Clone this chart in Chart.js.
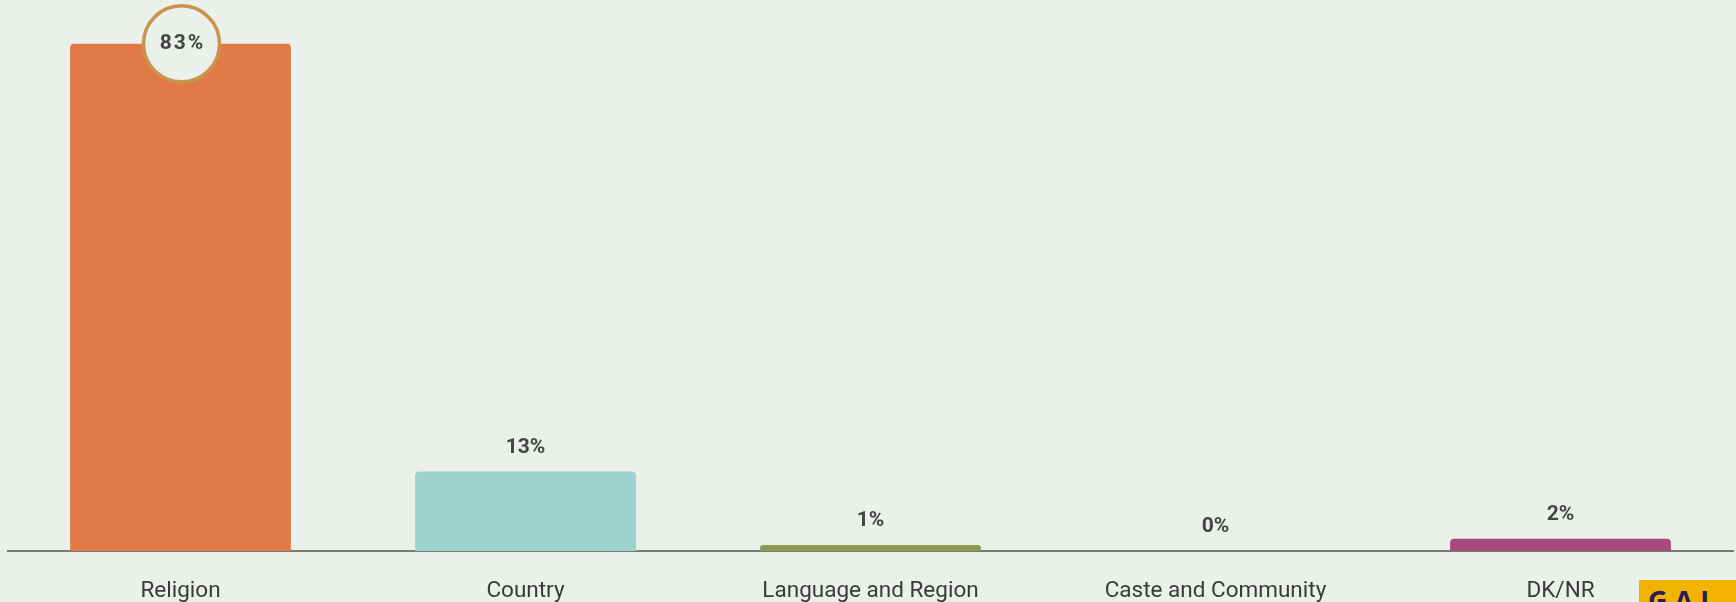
<!DOCTYPE html>
<html>
<head>
<meta charset="utf-8">
<script src="https://cdn.jsdelivr.net/npm/chart.js@4/dist/chart.umd.min.js"></script>
<style>
    html, body { margin: 0; padding: 0; background: #ebf0ea; overflow: hidden; }
    .chart-box { position: relative; width: 1736px; height: 642px; }
    .logo {
        position: absolute; left: 1639px; top: 580px; width: 110px; height: 40px;
        background: #f2b200; color: #2b1a5a;
        font: 700 27px "Open Sans", sans-serif; letter-spacing: 7px;
        padding-left: 9px; box-sizing: border-box; line-height: 40px;
    }
</style>
</head>
<body>
<div class="chart-box">
    <canvas id="bar-chart"></canvas>
</div>
<div class="logo">GAL</div>

<script>
    // 数据
    const categories = ['Religion', 'Country', 'Language and Region', 'Caste and Community', 'DK/NR'];
    const shares = [83, 13, 1, 0, 2];
    const barColors = ['#e07b48', '#9dd1cb', '#8e9a52', '#d9b45a', '#a64b7b'];

    // 柱顶数值标签，最大值画成圆圈
    const valueLabels = {
        id: 'valueLabels',
        afterDatasetsDraw(chart) {
            const ctx = chart.ctx;
            const meta = chart.getDatasetMeta(0);
            const top = Math.max(...shares);
            ctx.save();
            ctx.textAlign = 'center';
            ctx.textBaseline = 'middle';
            meta.data.forEach((bar, i) => {
                const v = shares[i];
                if (v === top) {
                    ctx.beginPath();
                    ctx.arc(bar.x + 1, bar.y, 38, 0, Math.PI * 2);
                    ctx.fillStyle = '#ebf0ea';
                    ctx.fill();
                    ctx.lineWidth = 3.5;
                    ctx.strokeStyle = '#c9944d';
                    ctx.stroke();
                    ctx.fillStyle = '#444';
                    ctx.font = 'bold 21px Roboto';
                    ctx.letterSpacing = '2px';
                    ctx.fillText(v + '%', bar.x + 2, bar.y);
                    ctx.letterSpacing = '0px';
                } else {
                    ctx.fillStyle = '#444';
                    ctx.font = 'bold 21px Roboto';
                    ctx.fillText(v + '%', bar.x, bar.y - 24);
                }
            });
            ctx.restore();
        }
    };

    new Chart(document.getElementById('bar-chart'), {
        type: 'bar',
        data: {
            labels: categories,
            datasets: [{
                data: shares,
                backgroundColor: barColors,
                borderRadius: 4,
                borderSkipped: 'start',
                barPercentage: 0.64,
                categoryPercentage: 1
            }]
        },
        options: {
            responsive: true,
            maintainAspectRatio: false,
            animation: false,
            layout: { padding: { left: 8, right: 3, top: 1, bottom: 18 } },
            plugins: {
                legend: { display: false },
                tooltip: { enabled: false }
            },
            scales: {
                x: {
                    grid: { display: false },
                    border: { display: true, color: '#767b76', width: 2 },
                    ticks: {
                        color: '#3a3a3a',
                        font: { family: 'Roboto', size: 22.5 },
                        padding: 19,
                        maxRotation: 0
                    }
                },
                y: {
                    display: false,
                    min: 0,
                    max: 90
                }
            }
        },
        plugins: [valueLabels]
    });
</script>
</body>
</html>
